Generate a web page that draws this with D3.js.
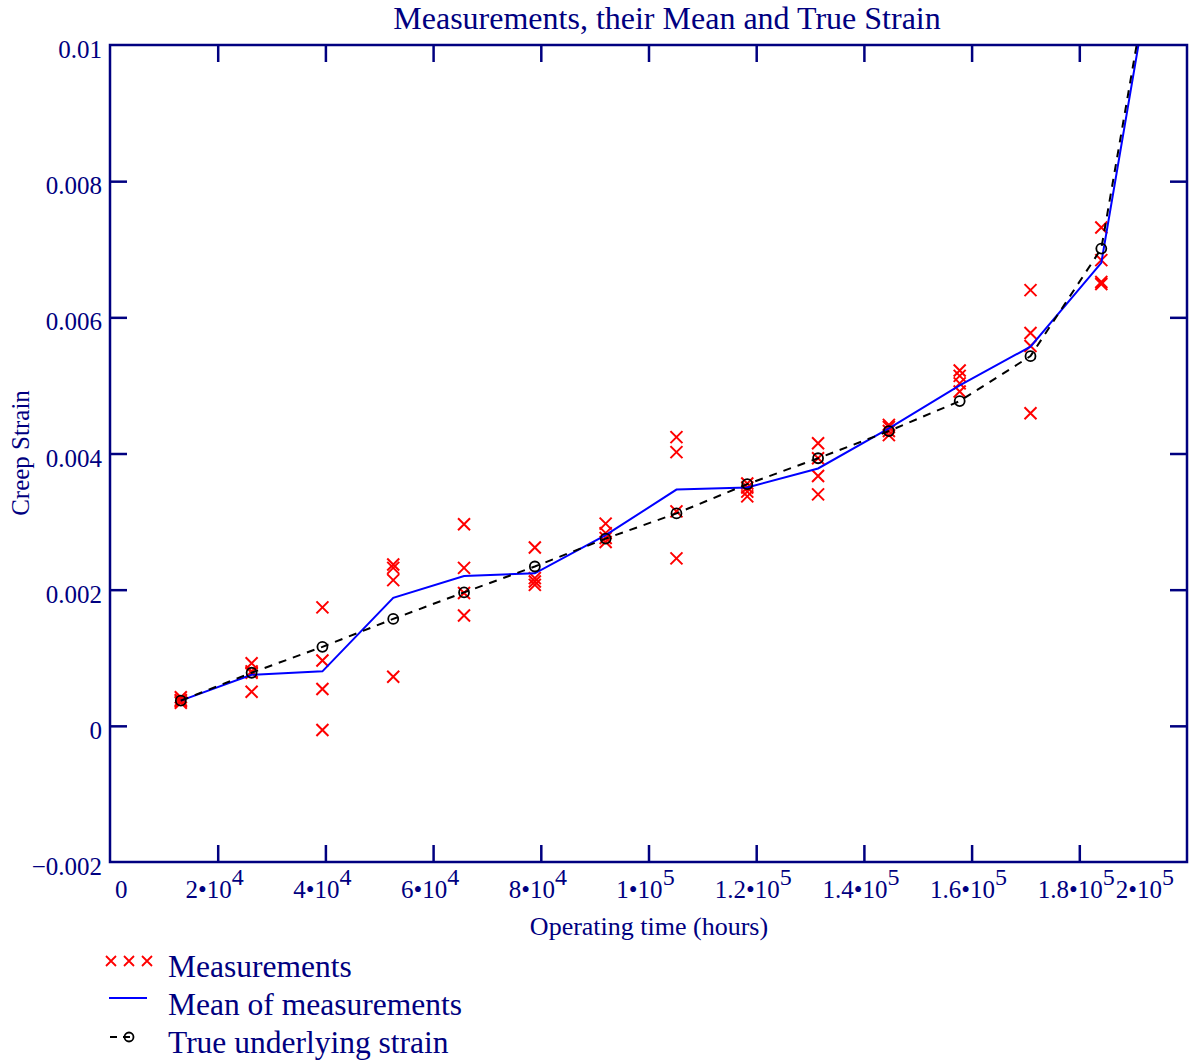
<!DOCTYPE html>
<html>
<head>
<meta charset="utf-8">
<script src="https://cdn.jsdelivr.net/npm/d3@7"></script>
<style>
  html, body { margin: 0; padding: 0; background: #fff; }
  svg { display: block; }
  text { font-family: "Liberation Serif", "Times New Roman", serif; fill: #000080; }
</style>
</head>
<body>
<svg id="chart" width="1192" height="1064"></svg>
<script>
// ---------------- data ----------------
const times = [13149, 26298, 39447, 52596, 65745, 78894, 92043, 105192, 118341, 131490, 144639, 157788, 170937, 184086, 197235];

const measurements1 = [0.00042, 0.00092, 0.00174, 0.00237, 0.00296, 0.00262, 0.00297, 0.00424, 0.00356, 0.00415, 0.00442, 0.00522, 0.00640, 0.00732];
const measurements2 = [0.00038, 0.00080, 0.00096, 0.00232, 0.00232, 0.00217, 0.00283, 0.00402, 0.00350, 0.00393, 0.00439, 0.00514, 0.00577, 0.00684];
const measurements3 = [0.00036, 0.00078, 0.00054, 0.00214, 0.00195, 0.00212, 0.00276, 0.00315, 0.00344, 0.00367, 0.00433, 0.00503, 0.00558, 0.00652];
const measurements4 = [0.00034, 0.00050, -0.00006, 0.00072, 0.00162, 0.00207, 0.00270, 0.00246, 0.00337, 0.00340, 0.00427, 0.00491, 0.00459, 0.00649];

const meanStrain = [0.00037, 0.00075, 0.00080, 0.00188, 0.00220, 0.00224, 0.00280, 0.00347, 0.00350, 0.00378, 0.00437, 0.00500, 0.00557, 0.00680, 0.01290];
const trueStrain = [0.00037, 0.00078, 0.00116, 0.00157, 0.00196, 0.00234, 0.00275, 0.00312, 0.00355, 0.00393, 0.00433, 0.00477, 0.00543, 0.00701, 0.01300];

const yTickValues = [0.01, 0.008, 0.006, 0.004, 0.002, 0, -0.002];
const yTickLabels = ["0.01", "0.008", "0.006", "0.004", "0.002", "0", "\u22120.002"];
const xTickValues = [0, 20000, 40000, 60000, 80000, 100000, 120000, 140000, 160000, 180000, 200000];
const xTickMantissa = ["0", "2\u202210", "4\u202210", "6\u202210", "8\u202210", "1\u202210", "1.2\u202210", "1.4\u202210", "1.6\u202210", "1.8\u202210", "2\u202210"];
const xTickExponent = ["", "4", "4", "4", "4", "5", "5", "5", "5", "5", "5"];

const titleText = "Measurements, their Mean and True Strain";
const xLabelText = "Operating time (hours)";
const yLabelText = "Creep Strain";
const legendLabels = ["Measurements", "Mean of measurements", "True underlying strain"];

// ---------------- layout ----------------
const navy = "#000080";
const pLeft = 110, pRight = 1187, pTop = 45, pBottom = 862;
const svg = d3.select("#chart");

const x = d3.scaleLinear().domain([0, 200000]).range([pLeft, pRight]);
const y = d3.scaleLinear().domain([-0.002, 0.01]).range([pBottom, pTop]);

svg.append("defs").append("clipPath").attr("id", "plotclip")
  .append("rect").attr("x", pLeft).attr("y", pTop).attr("width", pRight - pLeft).attr("height", pBottom - pTop);

// title
svg.append("text").attr("x", 667).attr("y", 29).attr("text-anchor", "middle")
  .style("font-size", "32px").text(titleText);

// ---------------- axes ----------------
const innerX = xTickValues.filter(v => v > 0 && v < 200000);
const innerY = yTickValues.filter(v => v > -0.002 && v < 0.01);

function styleAxis(g) {
  g.selectAll("path.domain").remove();
  g.selectAll(".tick line").attr("stroke", navy).attr("stroke-width", 2.5);
}

svg.append("g").attr("transform", `translate(0,${pBottom})`)
  .call(d3.axisBottom(x).tickValues(innerX).tickSize(-17).tickFormat(""))
  .call(styleAxis);
svg.append("g").attr("transform", `translate(0,${pTop})`)
  .call(d3.axisTop(x).tickValues(innerX).tickSize(-17).tickFormat(""))
  .call(styleAxis);
svg.append("g").attr("transform", `translate(${pLeft},0)`)
  .call(d3.axisLeft(y).tickValues(innerY).tickSize(-17).tickFormat(""))
  .call(styleAxis);
svg.append("g").attr("transform", `translate(${pRight},0)`)
  .call(d3.axisRight(y).tickValues(innerY).tickSize(-17).tickFormat(""))
  .call(styleAxis);

// y tick labels
const yLab = svg.append("g").attr("transform", `translate(${pLeft},0)`)
  .call(d3.axisLeft(y).tickValues(yTickValues).tickSize(0).tickPadding(8)
    .tickFormat((d, i) => yTickLabels[i]));
yLab.select("path.domain").remove();
yLab.selectAll("text").attr("fill", navy).attr("dy", "0.5em")
  .style("font-size", "25px").style("font-family", "Liberation Serif, serif");

// x tick labels with superscripts
const xLabG = svg.append("g");
xTickValues.forEach((v, i) => {
  const t = xLabG.append("text").attr("y", pBottom + 36).style("font-size", "25px");
  t.append("tspan").text(xTickMantissa[i]);
  if (xTickExponent[i]) {
    t.append("tspan").attr("dy", -13).style("font-size", "24px").text(xTickExponent[i]);
  }
  const w = t.node().getComputedTextLength();
  let cx = x(v) - 3;
  cx = Math.max(cx, pLeft + w / 2 + 5);
  cx = Math.min(cx, pRight - w / 2 - 13);
  t.attr("x", cx - w / 2);
});

// axis labels
svg.append("text").attr("x", 649).attr("y", 935).attr("text-anchor", "middle")
  .style("font-size", "26px").text(xLabelText);
svg.append("text").attr("transform", "translate(29,453) rotate(-90)").attr("text-anchor", "middle")
  .style("font-size", "25px").text(yLabelText);

// ---------------- marks ----------------
const plot = svg.append("g").attr("clip-path", "url(#plotclip)");

const measurementSets = [measurements1, measurements2, measurements3, measurements4];
const crossPoints = [];
measurementSets.forEach(set => set.forEach((v, i) => crossPoints.push({ t: times[i], v })));

const cs = 6;
const crosses = plot.append("g").attr("stroke", "#ff0000").attr("stroke-width", 2);
crosses.selectAll("path").data(crossPoints).join("path")
  .attr("d", d => {
    const px = x(d.t), py = y(d.v);
    return `M${px - cs},${py - cs}L${px + cs},${py + cs}M${px - cs},${py + cs}L${px + cs},${py - cs}`;
  });

const line = d3.line().x((d, i) => x(times[i])).y(d => y(d));

plot.append("path").datum(meanStrain).attr("d", line)
  .attr("fill", "none").attr("stroke", "#0000ff").attr("stroke-width", 2);

plot.append("path").datum(trueStrain).attr("d", line)
  .attr("fill", "none").attr("stroke", "#000").attr("stroke-width", 2)
  .attr("stroke-dasharray", "8,7");

plot.append("g").selectAll("circle").data(trueStrain).join("circle")
  .attr("cx", (d, i) => x(times[i])).attr("cy", d => y(d)).attr("r", 5)
  .attr("fill", "none").attr("stroke", "#000").attr("stroke-width", 1.8);

// frame
svg.append("rect").attr("x", pLeft).attr("y", pTop).attr("width", pRight - pLeft).attr("height", pBottom - pTop)
  .attr("fill", "none").attr("stroke", navy).attr("stroke-width", 2.5);

// ---------------- legend ----------------
const lg = svg.append("g");
[111, 129, 147].forEach(cx => {
  const s = 5, cy = 961;
  lg.append("path").attr("d", `M${cx - s},${cy - s}L${cx + s},${cy + s}M${cx - s},${cy + s}L${cx + s},${cy - s}`)
    .attr("stroke", "#ff0000").attr("stroke-width", 1.8);
});
lg.append("line").attr("x1", 109).attr("x2", 147).attr("y1", 998).attr("y2", 998)
  .attr("stroke", "#0000ff").attr("stroke-width", 2);
lg.append("line").attr("x1", 110).attr("x2", 134).attr("y1", 1037).attr("y2", 1037)
  .attr("stroke", "#000").attr("stroke-width", 2).attr("stroke-dasharray", "7,6");
lg.append("circle").attr("cx", 129).attr("cy", 1037).attr("r", 4.5)
  .attr("fill", "none").attr("stroke", "#000").attr("stroke-width", 1.8);
[977, 1015, 1053].forEach((ly, i) => {
  lg.append("text").attr("x", 168).attr("y", ly).style("font-size", "31.5px").text(legendLabels[i]);
});
</script>
</body>
</html>
